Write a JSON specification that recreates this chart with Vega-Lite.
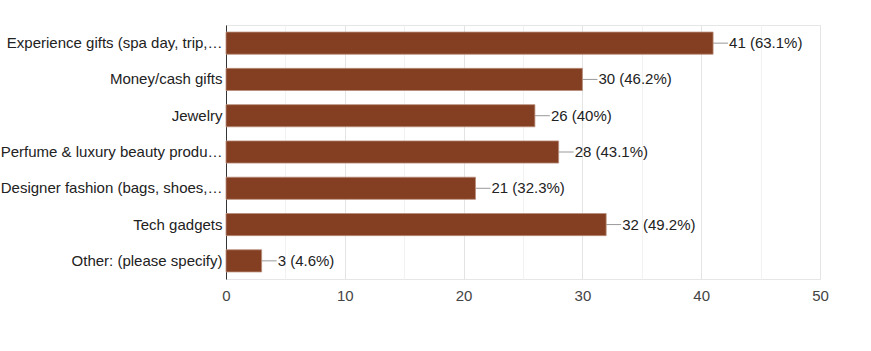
{
  "$schema": "https://vega.github.io/schema/vega-lite/v6.json",
  "autosize": {"type": "none"},
  "padding": {"left": 226, "top": 25, "right": 51, "bottom": 72},
  "width": 594,
  "height": 254,
  "background": "white",
  "config": {
    "view": {"stroke": "#e6e6e6", "strokeWidth": 1},
    "font": "Liberation Sans"
  },
  "data": {
    "values": [
      {"option": "Experience gifts (spa day, trip,…", "count": 41, "label": "41 (63.1%)"},
      {"option": "Money/cash gifts", "count": 30, "label": "30 (46.2%)"},
      {"option": "Jewelry", "count": 26, "label": "26 (40%)"},
      {"option": "Perfume & luxury beauty produ…", "count": 28, "label": "28 (43.1%)"},
      {"option": "Designer fashion (bags, shoes,…", "count": 21, "label": "21 (32.3%)"},
      {"option": "Tech gadgets", "count": 32, "label": "32 (49.2%)"},
      {"option": "Other: (please specify)", "count": 3, "label": "3 (4.6%)"}
    ]
  },
  "resolve": {"axis": {"x": "independent"}},
  "layer": [
    {
      "mark": {"type": "rule", "color": "#999999", "strokeWidth": 1, "x2Offset": 15},
      "encoding": {
        "y": {"field": "option", "type": "nominal", "sort": null},
        "x": {
          "field": "count", "type": "quantitative",
          "scale": {"domain": [0, 50], "nice": false},
          "axis": {"orient": "bottom", "values": [5, 15, 25, 35, 45], "labels": false, "ticks": false, "domain": false, "grid": true, "gridColor": "#f2f2f2", "title": null}
        },
        "x2": {"field": "count"}
      }
    },
    {
      "mark": {"type": "bar", "color": "#843f22", "stroke": "#b88b78", "strokeWidth": 0.8},
      "encoding": {
        "y": {
          "field": "option", "type": "nominal", "sort": null,
          "scale": {"paddingInner": 0.39, "paddingOuter": 0.195},
          "axis": {"title": null, "ticks": false, "domain": true, "domainColor": "#333333", "domainWidth": 1, "labelFontSize": 15, "labelColor": "#222222", "labelPadding": 4, "labelLimit": 300, "grid": false}
        },
        "x": {
          "field": "count", "type": "quantitative",
          "scale": {"domain": [0, 50], "nice": false},
          "axis": {"orient": "bottom", "values": [0, 10, 20, 30, 40, 50], "title": null, "ticks": false, "domain": false, "grid": true, "gridColor": "#e4e4e4", "labelFontSize": 15, "labelColor": "#444444", "labelPadding": 9, "labelFlush": false}
        }
      }
    },
    {
      "mark": {"type": "text", "align": "left", "baseline": "middle", "dx": 16, "fontSize": 15, "color": "#222222"},
      "encoding": {
        "y": {"field": "option", "type": "nominal", "sort": null},
        "x": {"field": "count", "type": "quantitative", "axis": null},
        "text": {"field": "label"}
      }
    }
  ]
}
